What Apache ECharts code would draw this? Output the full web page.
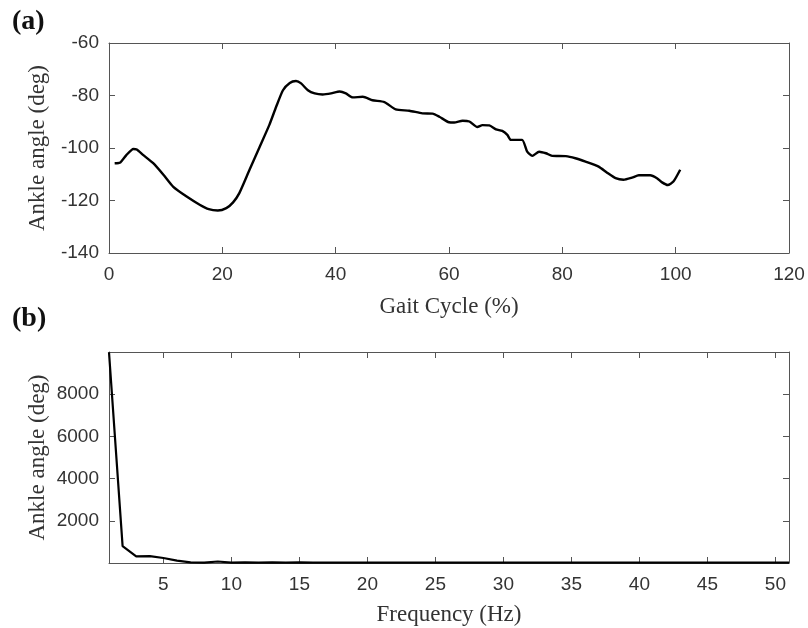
<!DOCTYPE html>
<html>
<head>
<meta charset="utf-8">
<script src="https://cdn.jsdelivr.net/npm/echarts@6/dist/echarts.min.js"></script>
<style>
html,body{margin:0;padding:0;background:#fff;}
#c{width:808px;height:628px;}
</style>
</head>
<body>
<div id="c"></div>
<script>
// Panel (a): ankle angle vs gait cycle
const gaitX = [1, 2, 3.1, 4.3, 4.9, 6, 7.8, 9.6, 11.3, 13.7, 16, 17.6, 19.2, 20.7, 21.9, 23, 24.8, 26.6, 28.3, 29.5, 30.7, 31.9, 33, 33.9, 35.1, 36.3, 37.7, 39.2, 40.7, 41.8, 43, 44.8, 46.5, 48.6, 50.6, 53, 55.3, 57.1, 58.3, 60, 60.9, 62.4, 63.6, 65, 65.9, 67.1, 68.3, 69.4, 70.3, 70.9, 72.9, 73.8, 74.7, 75.9, 77.1, 78.2, 80.6, 82.3, 84.1, 86.4, 87.9, 89.4, 90.8, 92.3, 93.5, 95.5, 96.7, 97.6, 98.6, 99.6, 100.8];
const ankleAngle = [-105.8, -105.5, -102.6, -100.4, -100.6, -102.6, -105.8, -110.2, -114.7, -118.5, -121.6, -123.3, -123.8, -122.9, -120.7, -117.2, -108.3, -99.5, -91.2, -84.3, -78, -75.2, -74.5, -75.4, -78, -79.2, -79.6, -79.2, -78.5, -79.2, -80.7, -80.5, -81.8, -82.5, -85.3, -85.8, -86.8, -86.9, -88.1, -90.2, -90.3, -89.6, -89.9, -92, -91.3, -91.4, -92.9, -93.5, -95, -96.9, -96.9, -101.4, -103, -101.4, -102, -103, -103.1, -103.9, -105.2, -107.1, -109.4, -111.5, -112.1, -111.3, -110.4, -110.4, -111.5, -113.1, -114.1, -112.8, -108.3];

// Panel (b): spectrum
const freqHz = [1, 2, 3, 4, 5, 6, 7, 8, 9, 10, 11, 12, 13, 14, 15, 16, 17, 18, 19, 20, 21, 22, 23, 24, 25, 26, 27, 28, 29, 30, 31, 32, 33, 34, 35, 36, 37, 38, 39, 40, 41, 42, 43, 44, 45, 46, 47, 48, 49, 50, 51];
const spectrum = [9990, 800, 310, 330, 236, 110, 30, 20, 70, 20, 25, 20, 25, 15, 25, 20, 15, 20, 15, 20, 15, 15, 20, 15, 15, 18, 15, 14, 15, 16, 15, 14, 15, 15, 14, 15, 15, 14, 15, 15, 14, 15, 14, 15, 15, 14, 15, 14, 15, 14, 15];

const xTicksB = [5, 10, 15, 20, 25, 30, 35, 40, 45, 50];

const axisCol = '#555';
const labelCol = '#333';
const tickFont = {fontFamily: 'Liberation Sans, Arial, sans-serif', fontSize: 19, color: labelCol};
const titleFont = {fontFamily: 'Liberation Serif, Times New Roman, serif', fontSize: 23, color: '#333'};

function boxAxis(extra) {
  return Object.assign({
    axisLine: {show: true, onZero: false, lineStyle: {color: axisCol, width: 1}},
    axisTick: {show: true, inside: true, length: 6, lineStyle: {color: axisCol}},
    splitLine: {show: false}
  }, extra);
}
const plain = v => String(v);

const chart = echarts.init(document.getElementById('c'), null, {renderer: 'canvas'});
chart.setOption({
  animation: false,
  backgroundColor: '#fff',
  grid: [
    {left: 109, top: 43, width: 680, height: 210},
    {left: 109, top: 352, width: 680, height: 211}
  ],
  graphic: [
    {type: 'text', left: 12, top: 8, style: {text: '(a)', font: 'bold 28px "Liberation Serif", serif', fill: '#111'}},
    {type: 'text', left: 12, top: 305, style: {text: '(b)', font: 'bold 28px "Liberation Serif", serif', fill: '#111'}}
  ],
  xAxis: [
    boxAxis({type: 'value', gridIndex: 0, min: 0, max: 120, interval: 20, position: 'bottom',
      axisLabel: Object.assign({margin: 12, formatter: plain}, tickFont),
      name: 'Gait Cycle (%)', nameLocation: 'middle', nameGap: 42, nameTextStyle: titleFont}),
    boxAxis({type: 'value', gridIndex: 0, min: 0, max: 120, interval: 20, position: 'top', axisLabel: {show: false}}),
    boxAxis({type: 'value', gridIndex: 1, min: 1, max: 51, position: 'bottom',
      axisLabel: Object.assign({margin: 12, customValues: xTicksB, formatter: plain}, tickFont),
      axisTick: {show: true, inside: true, length: 6, lineStyle: {color: axisCol}, customValues: xTicksB},
      name: 'Frequency (Hz)', nameLocation: 'middle', nameGap: 40, nameTextStyle: titleFont}),
    boxAxis({type: 'value', gridIndex: 1, min: 1, max: 51, position: 'top',
      axisLabel: {show: false, customValues: xTicksB},
      axisTick: {show: true, inside: true, length: 6, lineStyle: {color: axisCol}, customValues: xTicksB}})
  ],
  yAxis: [
    boxAxis({type: 'value', gridIndex: 0, min: -140, max: -60, interval: 20, position: 'left',
      axisLabel: Object.assign({margin: 10, formatter: plain}, tickFont),
      name: 'Ankle angle (deg)', nameLocation: 'middle', nameGap: 60, nameMoveOverlap: false, nameTextStyle: titleFont}),
    boxAxis({type: 'value', gridIndex: 0, min: -140, max: -60, interval: 20, position: 'right', axisLabel: {show: false}}),
    boxAxis({type: 'value', gridIndex: 1, min: 0, max: 10000, interval: 2000, position: 'left',
      axisLabel: Object.assign({margin: 10, showMinLabel: false, showMaxLabel: false, formatter: plain}, tickFont),
      name: 'Ankle angle (deg)', nameLocation: 'middle', nameGap: 60, nameMoveOverlap: false, nameTextStyle: titleFont}),
    boxAxis({type: 'value', gridIndex: 1, min: 0, max: 10000, interval: 2000, position: 'right', axisLabel: {show: false}})
  ],
  series: [
    {type: 'line', xAxisIndex: 0, yAxisIndex: 0, showSymbol: false, smooth: 0.2,
      lineStyle: {color: '#000', width: 2.4},
      data: gaitX.map((x, i) => [x, ankleAngle[i]])},
    {type: 'line', xAxisIndex: 2, yAxisIndex: 2, showSymbol: false,
      lineStyle: {color: '#000', width: 2.2},
      data: freqHz.map((x, i) => [x, spectrum[i]])}
  ]
});
</script>
</body>
</html>
